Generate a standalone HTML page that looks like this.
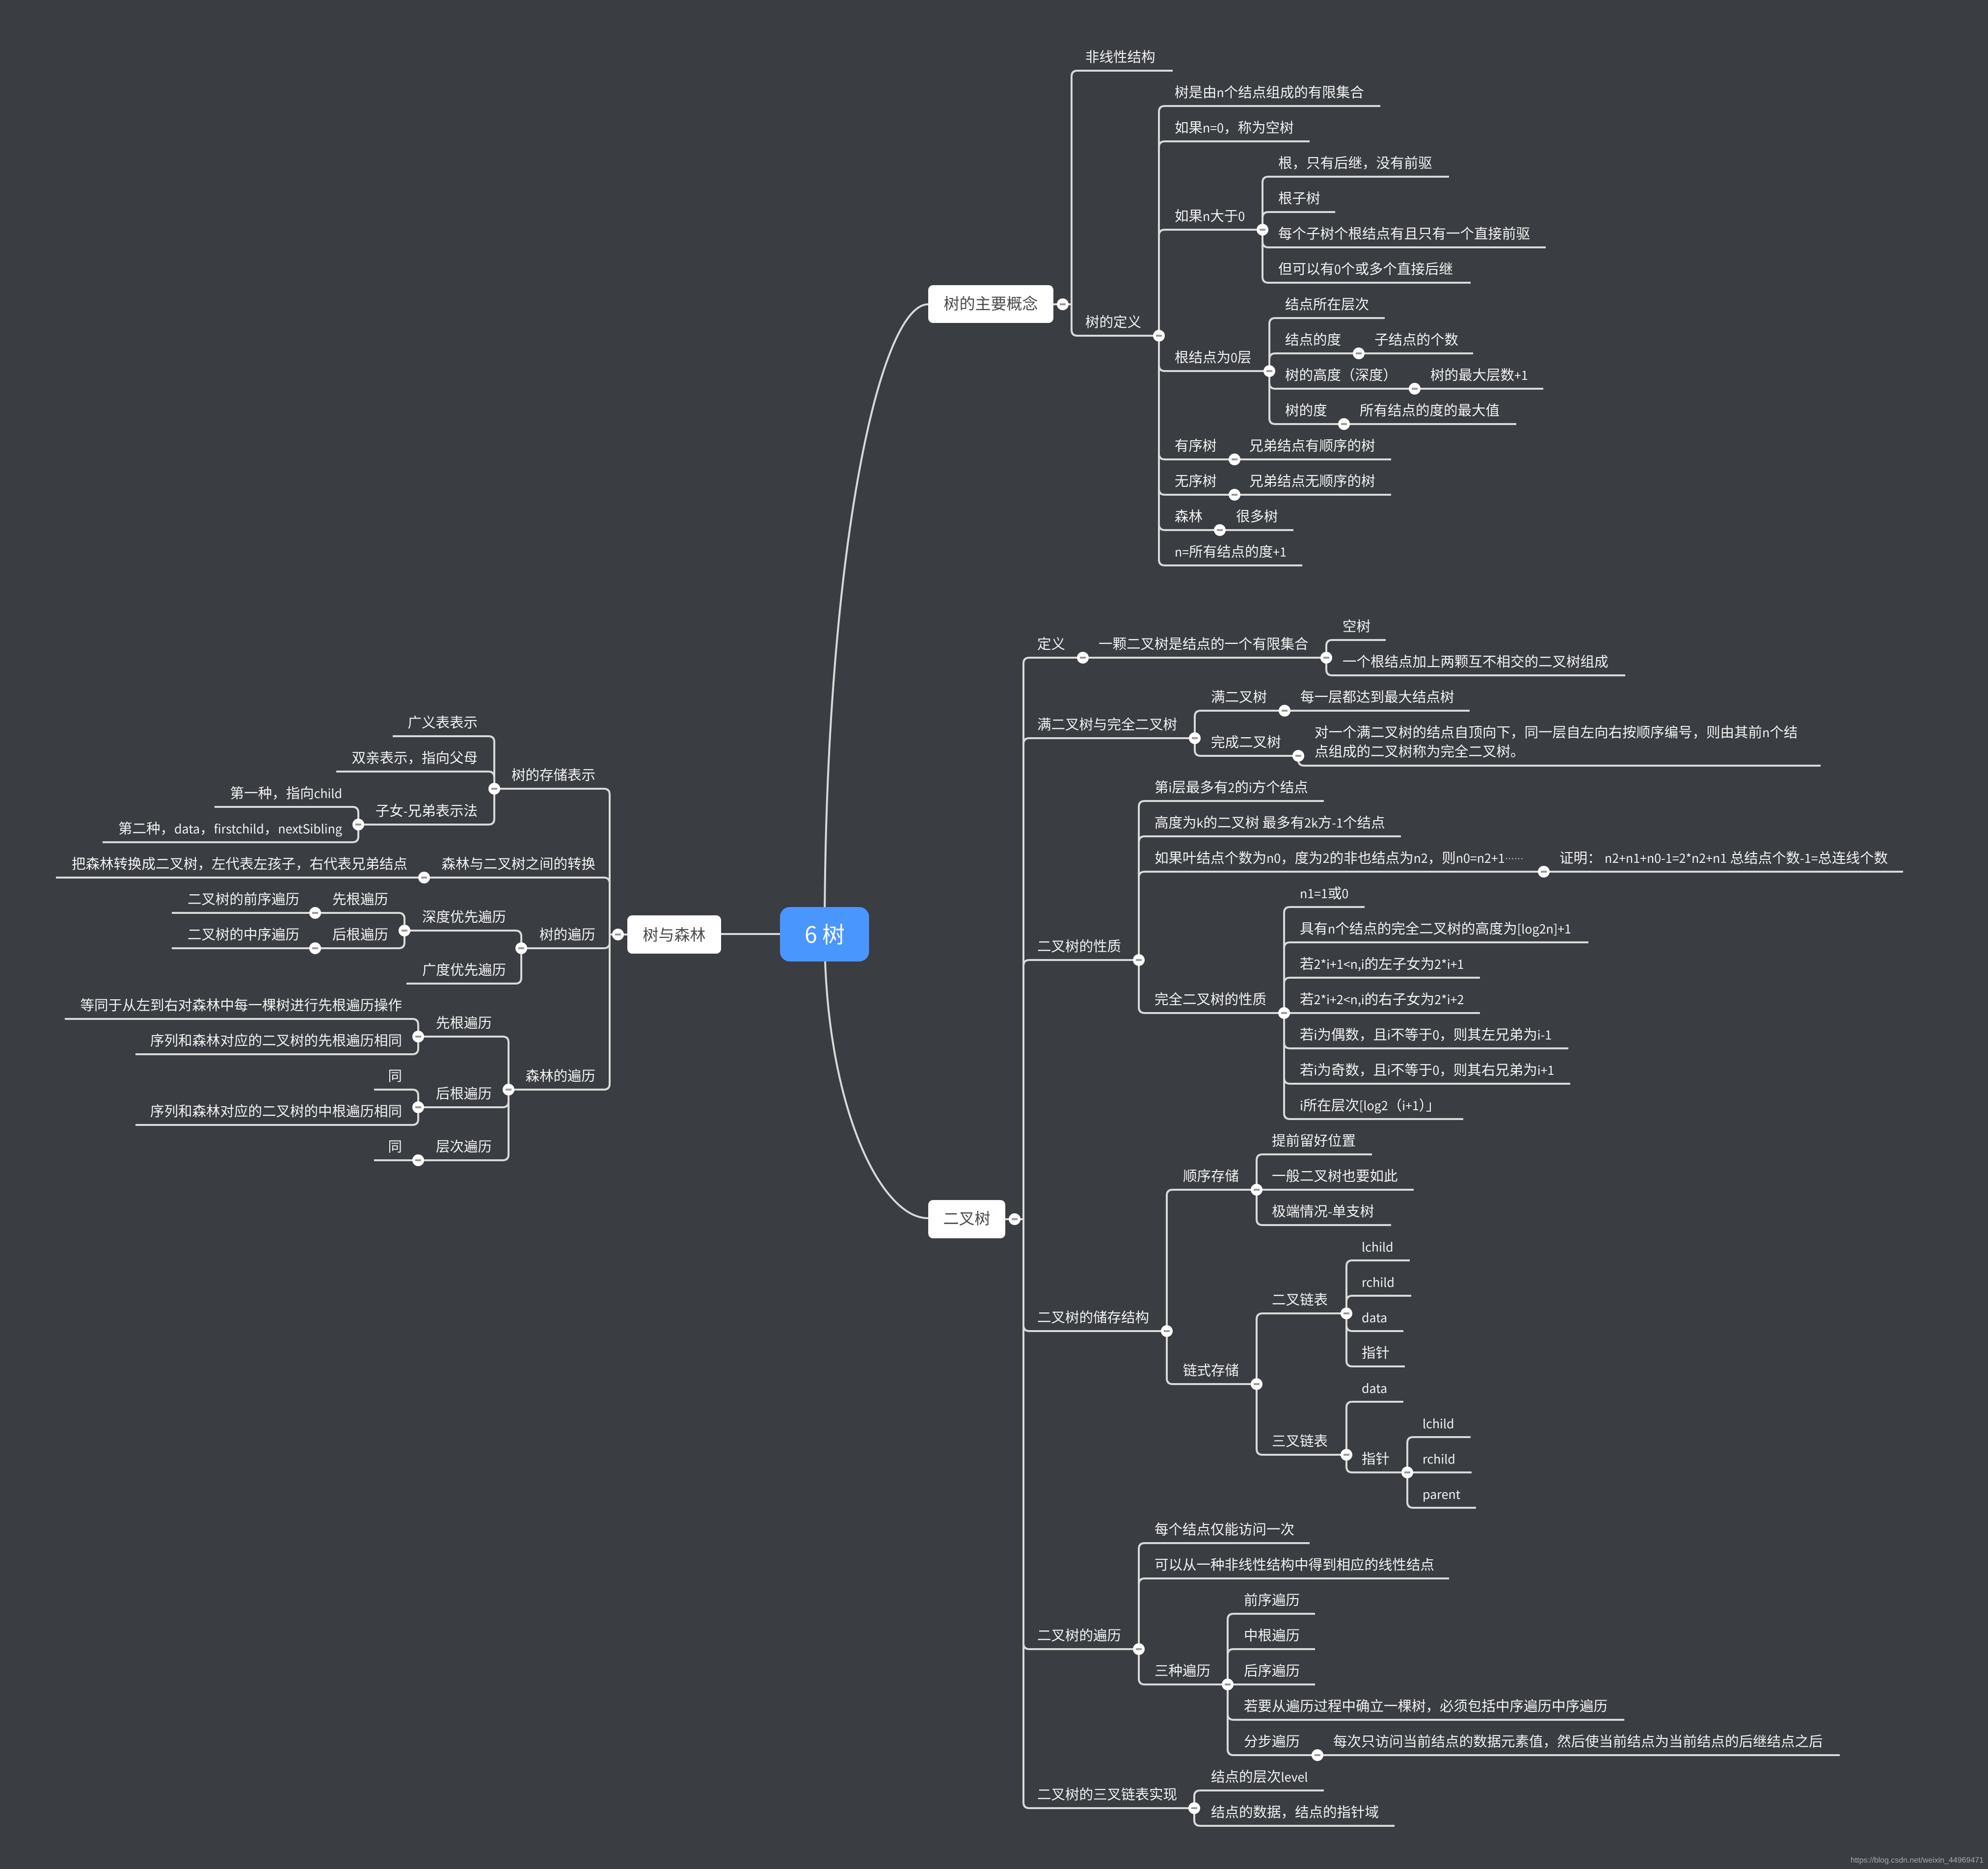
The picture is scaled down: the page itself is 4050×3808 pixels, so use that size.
<!DOCTYPE html>
<html lang="zh-CN"><head><meta charset="utf-8"><style>
html,body{margin:0;padding:0;background:#3a3d42}
svg{display:block}
text{font-family:"Noto Sans CJK SC","Liberation Sans",sans-serif;font-size:28.5px;fill:#f2f2f2}
.a{font-size:25px}
.e{text-anchor:end}
.n{font-size:32px;fill:#4a4a4a;text-anchor:middle}
path.l{fill:none;stroke:#d9d9d9;stroke-width:4}
</style></head><body>
<svg xmlns="http://www.w3.org/2000/svg" width="4050" height="3808" viewBox="0 0 4050 3808">
<defs><g id="m"><circle r="12" fill="#fff"/><rect x="-6" y="-2" width="12" height="4" fill="#999"/></g></defs>
<rect width="4050" height="3808" fill="#3a3d42"/>
<path class="l" d="M1680 1904C1680 1140 1790 620 1891 620M1680 1904C1680 2240 1790 2482 1891 2482M1589 1903H1469"/>
<path class="l" d="M2146 620H2183M2183 620V156Q2183 144 2195 144H2389M2183 620V672Q2183 684 2195 684H2361
M2361 684V228Q2361 216 2373 216H2812M2361 684V300Q2361 288 2373 288H2668M2361 684V480Q2361 468 2373 468H2572M2361 684V744Q2361 756 2373 756H2586M2361 684V924Q2361 936 2373 936H2834M2361 684V996Q2361 1008 2373 1008H2834M2361 684V1068Q2361 1080 2373 1080H2635M2361 684V1140Q2361 1152 2373 1152H2653
M2572 468V372Q2572 360 2584 360H2952M2572 468V444Q2572 432 2584 432H2720M2572 468V492Q2572 504 2584 504H3149M2572 468V564Q2572 576 2584 576H2996
M2586 756V660Q2586 648 2598 648H2821M2586 756V732Q2586 720 2598 720H3001M2586 756V780Q2586 792 2598 792H3144M2586 756V852Q2586 864 2598 864H3089"/>
<path class="l" d="M2048 2484H2085M2085 2484V1352Q2085 1340 2097 1340H2702M2085 2484V1516Q2085 1504 2097 1504H2434M2085 2484V1968Q2085 1956 2097 1956H2320M2085 2484V2700Q2085 2712 2097 2712H2377M2085 2484V3348Q2085 3360 2097 3360H2320M2085 2484V3672Q2085 3684 2097 3684H2433
M2702 1340V1316Q2702 1304 2714 1304H2823M2702 1340V1364Q2702 1376 2714 1376H3311
M2434 1504V1460Q2434 1448 2446 1448H2994M2434 1504V1528Q2434 1540 2446 1540H2645V1548Q2645 1560 2657 1560H3709
M2320 1956V1644Q2320 1632 2332 1632H2697M2320 1956V1716Q2320 1704 2332 1704H2854M2320 1956V1788Q2320 1776 2332 1776H3877M2320 1956V2052Q2320 2064 2332 2064H2616
M2616 2064V1860Q2616 1848 2628 1848H2780M2616 2064V1932Q2616 1920 2628 1920H3236M2616 2064V2004Q2616 1992 2628 1992H3015M2616 2064H3015M2616 2064V2124Q2616 2136 2628 2136H3195M2616 2064V2196Q2616 2208 2628 2208H3199M2616 2064V2268Q2616 2280 2628 2280H2981
M2377 2712V2436Q2377 2424 2389 2424H2560M2377 2712V2808Q2377 2820 2389 2820H2560
M2560 2424V2364Q2560 2352 2572 2352H2795M2560 2424H2880M2560 2424V2484Q2560 2496 2572 2496H2834
M2560 2820V2688Q2560 2676 2572 2676H2743M2560 2820V2952Q2560 2964 2572 2964H2743
M2743 2676V2580Q2743 2568 2755 2568H2872M2743 2676V2652Q2743 2640 2755 2640H2875M2743 2676V2700Q2743 2712 2755 2712H2859M2743 2676V2772Q2743 2784 2755 2784H2862
M2743 2964V2868Q2743 2856 2755 2856H2859M2743 2964V2988Q2743 3000 2755 3000H2867
M2867 3000V2940Q2867 2928 2879 2928H2996M2867 3000H2998M2867 3000V3060Q2867 3072 2879 3072H3007
M2320 3360V3156Q2320 3144 2332 3144H2668M2320 3360V3228Q2320 3216 2332 3216H2952M2320 3360V3420Q2320 3432 2332 3432H2501
M2501 3432V3300Q2501 3288 2513 3288H2679M2501 3432V3372Q2501 3360 2513 3360H2679M2501 3432H2679M2501 3432V3492Q2501 3504 2513 3504H3309M2501 3432V3564Q2501 3576 2513 3576H3748
M2433 3684V3660Q2433 3648 2445 3648H2697M2433 3684V3708Q2433 3720 2445 3720H2841"/>
<path class="l" d="M1278 1904H1242M1242 1904V1619Q1242 1607 1230 1607H1007M1242 1904V1800Q1242 1788 1230 1788H114M1242 1904V1920Q1242 1932 1230 1932H1062M1242 1904V2208Q1242 2220 1230 2220H1036
M1007 1607V1512Q1007 1500 995 1500H800M1007 1607V1584Q1007 1572 995 1572H685M1007 1607V1668Q1007 1680 995 1680H730
M730 1680V1656Q730 1644 718 1644H437M730 1680V1704Q730 1716 718 1716H209
M1062 1932V1908Q1062 1896 1050 1896H824M1062 1932V1992Q1062 2004 1050 2004H828
M824 1896V1872Q824 1860 812 1860H350M824 1896V1920Q824 1932 812 1932H350
M1036 2220V2124Q1036 2112 1024 2112H852M1036 2220V2244Q1036 2256 1024 2256H852M1036 2220V2352Q1036 2364 1024 2364H762
M852 2112V2088Q852 2076 840 2076H132M852 2112V2136Q852 2148 840 2148H276
M852 2256V2232Q852 2220 840 2220H762M852 2256V2280Q852 2292 840 2292H276"/>
<rect x="1589" y="1848" width="181.5" height="111" rx="20" fill="#4a96ff"/>
<text x="1680" y="1921" style="font-size:46px;fill:#fff;text-anchor:middle">6 树</text>
<rect x="1891" y="581" width="255" height="77" rx="10" fill="#fff"/>
<text class="n" x="2018.5" y="630">树的主要概念</text>
<rect x="1891" y="2445" width="157" height="78" rx="10" fill="#fff"/>
<text class="n" x="1969.5" y="2494">二叉树</text>
<rect x="1278" y="1865" width="191" height="78" rx="10" fill="#fff"/>
<text class="n" x="1373.5" y="1916">树与森林</text>
<g transform="translate(0,-2)">
<text x="2211" y="128">非线性结构</text><text x="2211" y="668">树的定义</text>
<text x="2393" y="200">树是由<tspan class="a">n</tspan>个结点组成的有限集合</text><text x="2393" y="272">如果<tspan class="a">n=0</tspan>，称为空树</text><text x="2393" y="452">如果<tspan class="a">n</tspan>大于<tspan class="a">0</tspan></text><text x="2393" y="740">根结点为<tspan class="a">0</tspan>层</text><text x="2393" y="920">有序树</text><text x="2393" y="992">无序树</text><text x="2393" y="1064">森林</text><text x="2393" y="1136"><tspan class="a">n=</tspan>所有结点的度<tspan class="a">+1</tspan></text>
<text x="2604" y="344">根，只有后继，没有前驱</text><text x="2604" y="416">根子树</text><text x="2604" y="488">每个子树个根结点有且只有一个直接前驱</text><text x="2604" y="560">但可以有<tspan class="a">0</tspan>个或多个直接后继</text>
<text x="2618" y="632">结点所在层次</text><text x="2618" y="704">结点的度</text><text x="2618" y="776">树的高度（深度）</text><text x="2618" y="848">树的度</text>
<text x="2800" y="704">子结点的个数</text><text x="2914" y="776">树的最大层数<tspan class="a">+1</tspan></text><text x="2770" y="848">所有结点的度的最大值</text>
<text x="2545" y="920">兄弟结点有顺序的树</text><text x="2545" y="992">兄弟结点无顺序的树</text><text x="2518" y="1064">很多树</text>
</g>
<g transform="translate(0,-2)">
<text x="2113" y="1324">定义</text><text x="2238" y="1324">一颗二叉树是结点的一个有限集合</text><text x="2735" y="1288">空树</text><text x="2735" y="1360">一个根结点加上两颗互不相交的二叉树组成</text>
<text x="2113" y="1488">满二叉树与完全二叉树</text><text x="2467" y="1432">满二叉树</text><text x="2649" y="1432">每一层都达到最大结点树</text><text x="2467" y="1524">完成二叉树</text>
<text x="2678" y="1504">对一个满二叉树的结点自顶向下，同一层自左向右按顺序编号，则由其前<tspan class="a">n</tspan>个结</text><text x="2678" y="1543">点组成的二叉树称为完全二叉树。</text>
<text x="2113" y="1940">二叉树的性质</text><text x="2352" y="1616">第<tspan class="a">i</tspan>层最多有<tspan class="a">2</tspan>的<tspan class="a">i</tspan>方个结点</text><text x="2352" y="1688">高度为<tspan class="a">k</tspan>的二叉树 最多有<tspan class="a">2k</tspan>方<tspan class="a">-1</tspan>个结点</text><text x="2352" y="1760">如果叶结点个数为<tspan class="a">n0</tspan>，度为<tspan class="a">2</tspan>的非也结点为<tspan class="a">n2</tspan>，则<tspan class="a">n0=n2+1</tspan><tspan dy="-3" style="font-family:'Liberation Sans',sans-serif;font-size:19px">······</tspan></text><text x="3177" y="1760">证明： <tspan class="a">n2+n1+n0-1=2*n2+n1</tspan> 总结点个数<tspan class="a">-1=</tspan>总连线个数</text><text x="2352" y="2048">完全二叉树的性质</text>
<text x="2648" y="1832"><tspan class="a">n1=1</tspan>或<tspan class="a">0</tspan></text><text x="2648" y="1904">具有<tspan class="a">n</tspan>个结点的完全二叉树的高度为<tspan class="a">[log2n]+1</tspan></text><text x="2648" y="1976">若<tspan class="a">2*i+1&lt;n,i</tspan>的左子女为<tspan class="a">2*i+1</tspan></text><text x="2648" y="2048">若<tspan class="a">2*i+2&lt;n,i</tspan>的右子女为<tspan class="a">2*i+2</tspan></text><text x="2648" y="2120">若<tspan class="a">i</tspan>为偶数，且<tspan class="a">i</tspan>不等于<tspan class="a">0</tspan>，则其左兄弟为<tspan class="a">i-1</tspan></text><text x="2648" y="2192">若<tspan class="a">i</tspan>为奇数，且<tspan class="a">i</tspan>不等于<tspan class="a">0</tspan>，则其右兄弟为<tspan class="a">i+1</tspan></text><text x="2648" y="2264"><tspan class="a">i</tspan>所在层次<tspan class="a">[log2</tspan>（<tspan class="a">i+1</tspan>）」</text>
<text x="2113" y="2696">二叉树的储存结构</text><text x="2410" y="2408">顺序存储</text><text x="2410" y="2804">链式存储</text>
<text x="2591" y="2336">提前留好位置</text><text x="2591" y="2408">一般二叉树也要如此</text><text x="2591" y="2480">极端情况<tspan class="a">-</tspan>单支树</text><text x="2591" y="2660">二叉链表</text><text x="2591" y="2948">三叉链表</text>
<text class="a" x="2774" y="2552">lchild</text><text class="a" x="2774" y="2624">rchild</text><text class="a" x="2774" y="2696">data</text><text x="2774" y="2768">指针</text><text class="a" x="2774" y="2840">data</text><text x="2774" y="2984">指针</text>
<text class="a" x="2898" y="2912">lchild</text><text class="a" x="2898" y="2984">rchild</text><text class="a" x="2898" y="3056">parent</text>
<text x="2113" y="3344">二叉树的遍历</text><text x="2352" y="3128">每个结点仅能访问一次</text><text x="2352" y="3200">可以从一种非线性结构中得到相应的线性结点</text><text x="2352" y="3416">三种遍历</text>
<text x="2534" y="3272">前序遍历</text><text x="2534" y="3344">中根遍历</text><text x="2534" y="3416">后序遍历</text><text x="2534" y="3488">若要从遍历过程中确立一棵树，必须包括中序遍历中序遍历</text><text x="2534" y="3560">分步遍历</text><text x="2716" y="3560">每次只访问当前结点的数据元素值，然后使当前结点为当前结点的后继结点之后</text>
<text x="2113" y="3668">二叉树的三叉链表实现</text><text x="2467" y="3632">结点的层次<tspan class="a">level</tspan></text><text x="2467" y="3704">结点的数据，结点的指针域</text>
</g>
<g transform="translate(0,-2)">
<text class="e" x="1213" y="1591">树的存储表示</text><text class="e" x="973" y="1484">广义表表示</text><text class="e" x="973" y="1556">双亲表示，指向父母</text><text class="e" x="973" y="1664">子女<tspan class="a">-</tspan>兄弟表示法</text><text class="e" x="697" y="1628">第一种，指向<tspan class="a">child</tspan></text><text class="e" x="697" y="1700">第二种，<tspan class="a">data</tspan>，<tspan class="a">firstchild</tspan>，<tspan class="a">nextSibling</tspan></text>
<text class="e" x="1213" y="1772">森林与二叉树之间的转换</text><text class="e" x="830" y="1772">把森林转换成二叉树，左代表左孩子，右代表兄弟结点</text>
<text class="e" x="1213" y="1916">树的遍历</text><text class="e" x="1031" y="1880">深度优先遍历</text><text class="e" x="1031" y="1988">广度优先遍历</text><text class="e" x="791" y="1844">先根遍历</text><text class="e" x="791" y="1916">后根遍历</text><text class="e" x="610" y="1844">二叉树的前序遍历</text><text class="e" x="610" y="1916">二叉树的中序遍历</text>
<text class="e" x="1213" y="2204">森林的遍历</text><text class="e" x="1002" y="2096">先根遍历</text><text class="e" x="1002" y="2240">后根遍历</text><text class="e" x="1002" y="2348">层次遍历</text>
<text class="e" x="819" y="2060">等同于从左到右对森林中每一棵树进行先根遍历操作</text><text class="e" x="819" y="2132">序列和森林对应的二叉树的先根遍历相同</text><text class="e" x="819" y="2204">同</text><text class="e" x="819" y="2276">序列和森林对应的二叉树的中根遍历相同</text><text class="e" x="819" y="2348">同</text>
</g>
<use href="#m" x="2165" y="620"/><use href="#m" x="2361" y="684"/><use href="#m" x="2572" y="468"/><use href="#m" x="2586" y="756"/><use href="#m" x="2768" y="720"/><use href="#m" x="2882" y="792"/><use href="#m" x="2738" y="864"/><use href="#m" x="2515" y="936"/><use href="#m" x="2515" y="1008"/><use href="#m" x="2485" y="1080"/>
<use href="#m" x="2067" y="2484"/><use href="#m" x="2206" y="1340"/><use href="#m" x="2702" y="1340"/><use href="#m" x="2434" y="1504"/><use href="#m" x="2617" y="1448"/><use href="#m" x="2645" y="1540"/><use href="#m" x="2320" y="1956"/><use href="#m" x="3145" y="1776"/><use href="#m" x="2616" y="2064"/><use href="#m" x="2377" y="2712"/><use href="#m" x="2560" y="2424"/><use href="#m" x="2560" y="2820"/><use href="#m" x="2743" y="2676"/><use href="#m" x="2743" y="2964"/><use href="#m" x="2867" y="3000"/><use href="#m" x="2320" y="3360"/><use href="#m" x="2501" y="3432"/><use href="#m" x="2684" y="3576"/><use href="#m" x="2433" y="3684"/>
<use href="#m" x="1259" y="1904"/><use href="#m" x="1007" y="1607"/><use href="#m" x="730" y="1680"/><use href="#m" x="864" y="1788"/><use href="#m" x="1062" y="1932"/><use href="#m" x="824" y="1896"/><use href="#m" x="642" y="1860"/><use href="#m" x="642" y="1932"/><use href="#m" x="1036" y="2220"/><use href="#m" x="852" y="2112"/><use href="#m" x="852" y="2256"/><use href="#m" x="852" y="2364"/>
<text x="4041" y="3795" textLength="271" style="font-family:'Liberation Sans',sans-serif;font-size:16px;fill:#aaa;text-anchor:end">https://blog.csdn.net/weixin_44969471</text>
</svg>
</body></html>
